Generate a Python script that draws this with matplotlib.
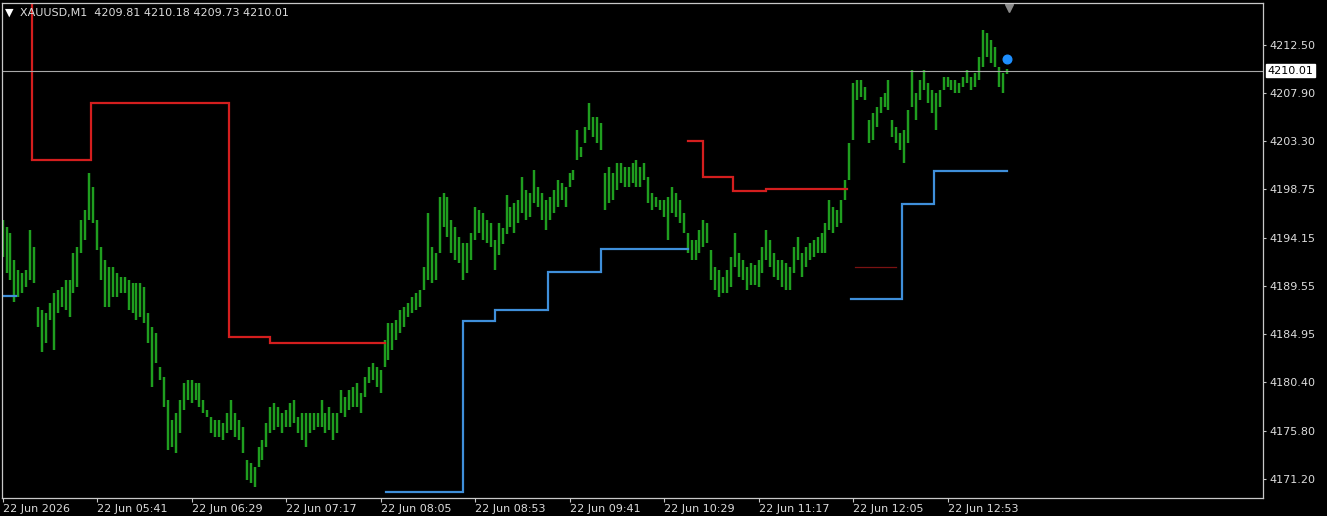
import matplotlib
matplotlib.use("Agg")
import matplotlib.pyplot as plt
import matplotlib.transforms as mtransforms
import numpy as np

SYMBOL = "XAUUSD,M1"
LAST_OHLC = [4209.81, 4210.18, 4209.73, 4210.01]
FIRST_BAR = "04:53"
BAR_STEP = 2  # minutes between the plotted bars

# bar highs / lows, one value every 2 minutes from 04:53
highs = [
    4195.81, 4195.15, 4194.58, 4192.01, 4191.06, 4190.78, 4191.06, 4194.86, 4193.25,
    4187.55, 4187.26, 4186.98, 4187.93,
    4188.88, 4189.16, 4189.45, 4190.11, 4190.11, 4192.68, 4193.25,
    4195.81, 4196.76, 4200.28, 4198.95, 4195.81,
    4193.25, 4192.01, 4191.35, 4191.35, 4190.78, 4190.40,
    4190.40, 4190.11, 4189.83, 4189.83, 4189.83,
    4189.45, 4186.98, 4185.65, 4185.08, 4181.85, 4180.90, 4178.71,
    4176.81, 4177.48, 4178.71, 4180.33, 4180.61,
    4180.61, 4180.33, 4180.33, 4178.71, 4177.76,
    4177.10, 4176.81, 4176.81, 4176.53, 4177.48, 4178.71,
    4177.48, 4176.81, 4176.15, 4173.01, 4172.73, 4172.35,
    4174.25,
    4174.91, 4176.53, 4178.05, 4178.43,
    4178.05, 4177.48, 4177.76, 4178.43, 4178.71,
    4177.10, 4177.48, 4177.48, 4177.48, 4177.48, 4177.48,
    4178.71, 4177.48, 4178.05, 4177.48, 4177.48,
    4179.66, 4179.00, 4179.66, 4179.95, 4180.33, 4179.38,
    4180.90, 4181.85, 4182.23, 4181.85, 4181.56,
    4184.41, 4186.03, 4186.03, 4186.31, 4187.26, 4187.55,
    4187.93, 4188.50, 4188.88, 4189.16,
    4191.35, 4196.48, 4193.25, 4192.68, 4198.00, 4198.38, 4198.00,
    4195.81, 4195.15, 4194.20, 4193.63, 4193.63, 4194.58,
    4197.05, 4196.76, 4196.48, 4195.81, 4195.53,
    4193.91, 4195.53, 4195.10, 4198.19,
    4197.05, 4197.43,
    4197.71, 4199.90, 4198.66, 4198.38,
    4200.56, 4198.95, 4198.38, 4197.71, 4198.00, 4198.66, 4199.61,
    4199.33, 4198.95, 4200.28, 4200.56, 4204.36, 4202.75,
    4204.65, 4206.93, 4205.60, 4205.60, 4205.03, 4200.28,
    4200.85, 4200.28, 4201.23, 4201.23, 4200.85,
    4200.85, 4201.23, 4201.51, 4200.85, 4201.23,
    4199.90, 4198.38, 4198.00, 4197.71, 4197.71, 4198.00,
    4198.95, 4198.38, 4197.71, 4196.48, 4194.58,
    4193.91, 4193.91, 4194.86, 4195.81, 4195.53, 4192.96,
    4191.35, 4191.06, 4190.40, 4191.06, 4192.30, 4194.58,
    4192.68, 4192.01, 4191.35, 4191.73, 4191.54,
    4192.01, 4193.25, 4194.86, 4193.91, 4192.68, 4192.01,
    4192.01, 4191.73, 4191.35, 4193.25, 4194.20,
    4192.68, 4193.25, 4193.63, 4193.91, 4194.20, 4194.58,
    4195.53, 4197.71, 4197.05, 4196.76, 4197.71,
    4199.61, 4203.13, 4208.83, 4209.11, 4209.11, 4208.45,
    4205.31, 4205.98, 4206.55, 4207.50, 4207.88, 4209.11,
    4205.31, 4204.65, 4204.08, 4204.36, 4206.26, 4210.06,
    4207.88, 4209.11, 4210.06, 4208.83, 4208.16, 4207.88,
    4208.16, 4209.40, 4209.40, 4209.11,
    4209.11, 4208.83, 4209.40, 4210.06, 4209.40, 4209.78,
    4211.30, 4213.86, 4213.58, 4212.91, 4212.25,
    4210.35, 4209.78, 4210.18,
]
lows = [
    4192.30, 4190.78, 4190.11, 4188.02, 4188.50, 4188.88, 4189.45, 4190.11, 4189.83,
    4185.65, 4183.27, 4184.13, 4186.31,
    4183.46, 4186.98, 4187.55, 4187.26, 4186.60, 4188.88, 4189.45,
    4192.68, 4193.91, 4195.81, 4195.53, 4192.96,
    4190.11, 4187.55, 4187.55, 4188.50, 4188.50, 4188.88,
    4188.88, 4187.26, 4186.98, 4186.31, 4186.60,
    4186.03, 4184.13, 4179.95, 4182.23, 4180.61, 4178.05, 4173.96,
    4174.25, 4173.68, 4175.58, 4177.76, 4178.71,
    4178.43, 4178.71, 4178.05, 4177.48, 4177.10,
    4175.58, 4175.20, 4175.20, 4174.91, 4175.58, 4175.86,
    4175.20, 4174.91, 4173.68, 4171.11, 4170.83, 4170.45,
    4172.35,
    4173.01, 4174.25, 4175.58, 4175.86,
    4176.15, 4175.58, 4176.15, 4176.15, 4176.53,
    4175.58, 4174.91, 4174.25, 4175.58, 4175.86, 4176.15,
    4176.15, 4175.58, 4175.86, 4174.91, 4175.58,
    4177.48, 4177.10, 4177.76, 4178.05, 4178.05, 4177.48,
    4179.00, 4180.33, 4180.61, 4179.95, 4179.38,
    4181.85, 4182.51, 4183.46, 4184.41, 4185.08, 4185.65,
    4186.60, 4186.98, 4187.26, 4187.55,
    4189.16, 4190.11, 4189.83, 4190.11, 4192.68, 4195.15, 4194.20,
    4192.68, 4192.01, 4191.73, 4190.11, 4190.78, 4192.01,
    4193.91, 4194.58, 4193.91, 4193.63, 4193.25,
    4191.06, 4192.48, 4193.53, 4194.48,
    4195.15, 4194.58,
    4195.53, 4196.48, 4195.81, 4196.10,
    4197.43, 4197.05, 4195.81, 4194.86, 4195.81, 4196.48, 4197.05,
    4197.71, 4197.05, 4198.95, 4199.61, 4201.51, 4201.80,
    4203.13, 4204.36, 4203.70, 4203.13, 4202.46, 4196.76,
    4197.43, 4197.71, 4198.66, 4199.33, 4198.95,
    4198.95, 4199.33, 4198.95, 4198.95, 4199.61,
    4197.43, 4196.76, 4197.05, 4196.76, 4196.10, 4193.91,
    4196.48, 4196.10, 4195.53, 4194.58, 4192.68,
    4192.01, 4192.01, 4192.68, 4193.25, 4193.63, 4190.11,
    4189.16, 4188.50, 4188.88, 4188.88, 4189.45, 4191.35,
    4190.40, 4190.11, 4189.16, 4189.64, 4189.64,
    4189.45, 4190.78, 4192.01, 4191.35, 4190.40, 4190.11,
    4189.45, 4189.16, 4189.16, 4190.78, 4192.01,
    4190.40, 4191.35, 4192.01, 4192.30, 4192.68, 4192.68,
    4192.68, 4194.86, 4194.58, 4195.15, 4195.53,
    4197.71, 4199.61, 4203.41, 4207.21, 4207.50, 4207.21,
    4203.13, 4203.41, 4204.65, 4205.98, 4206.55, 4206.26,
    4203.70, 4203.13, 4202.46, 4201.23, 4203.13, 4206.55,
    4205.31, 4207.21, 4208.16, 4206.93, 4205.98, 4204.36,
    4206.55, 4208.16, 4208.45, 4208.16,
    4207.88, 4207.88, 4208.45, 4208.83, 4208.16, 4208.45,
    4209.11, 4210.35, 4211.30, 4210.73, 4210.35,
    4208.45, 4207.88, 4209.73,
]

# resistance (red) and support (blue) steps: change times and levels
red_a_times = ["05:08", "05:38", "06:48", "07:09", "08:07"]
red_a_levels = [4201.50, 4206.95, 4184.70, 4184.10]
red_b_times = ["10:41", "10:49", "11:04", "11:21", "12:02"]
red_b_levels = [4203.35, 4199.90, 4198.60, 4198.80]
dark_red_times = ["12:06", "12:27"]
dark_red_levels = [4191.35]

blue_a_times = ["04:52", "05:00"]
blue_a_levels = [4188.60]
blue_b_times = ["08:08", "08:47", "09:03", "09:30", "09:57", "10:41"]
blue_b_levels = [4169.95, 4186.25, 4187.25, 4190.85, 4193.05]
blue_c_times = ["12:04", "12:30", "12:46", "13:23"]
blue_c_levels = [4188.30, 4197.30, 4200.50]

signal_time = "13:23"
signal_price = 4211.15

tick_times = ["04:53", "05:41", "06:29", "07:17", "08:05", "08:53",
              "09:41", "10:29", "11:17", "12:05", "12:53"]
tick_labels = ["22 Jun 2026", "22 Jun 05:41", "22 Jun 06:29", "22 Jun 07:17",
               "22 Jun 08:05", "22 Jun 08:53", "22 Jun 09:41", "22 Jun 10:29",
               "22 Jun 11:17", "22 Jun 12:05", "22 Jun 12:53"]
price_ticks = [4212.50, 4207.90, 4203.30, 4198.75, 4194.15,
               4189.55, 4184.95, 4180.40, 4175.80, 4171.20]

GREEN = "#1f9e1f"
RED = "#d41e1e"
BLUE = "#3f8fda"
FG = "#dcdcdc"
SPINE = "#c8c8c8"


def minutes(hhmm):
    h, m = hhmm.split(":")
    h0, m0 = FIRST_BAR.split(":")
    return (int(h) * 60 + int(m)) - (int(h0) * 60 + int(m0))


def draw_steps(ax, times, levels, color, lw=1.6):
    xs = [minutes(t) for t in times]
    ys = list(levels) + [levels[-1]]
    ax.step(xs, ys, where="post", color=color, lw=lw, solid_joinstyle="miter")


W, H = 1327, 516
fig = plt.figure(figsize=(W / 100, H / 100), dpi=100, facecolor="black")
ax = fig.add_axes([2 / W, 18 / H, 1260.7 / W, 494.7 / H])
ax.set_facecolor("black")

bar_x = np.arange(len(highs)) * BAR_STEP
ax.vlines(bar_x, lows, highs, color=GREEN, lw=1.75)

# red line comes in from above the visible range
ax.vlines(minutes(red_a_times[0]), red_a_levels[0], 4230, color=RED, lw=1.6)
draw_steps(ax, red_a_times, red_a_levels, RED)
draw_steps(ax, red_b_times, red_b_levels, RED)
draw_steps(ax, dark_red_times, dark_red_levels, "#7a1212", lw=0.9)
draw_steps(ax, blue_a_times, blue_a_levels, BLUE)
draw_steps(ax, blue_b_times, blue_b_levels, BLUE)
draw_steps(ax, blue_c_times, blue_c_levels, BLUE)

ax.plot(minutes(signal_time), signal_price, "o", color="#1e8fff", ms=6.2)

last_close = LAST_OHLC[3]
ax.axhline(last_close, color="#a8a8a8", lw=0.8)

ax.set_xlim(-0.3, 640.1)
ax.set_ylim(4169.40, 4216.42)

ax.set_xticks([minutes(t) for t in tick_times])
ax.set_xticklabels(tick_labels, ha="left")
ax.yaxis.tick_right()
ax.set_yticks(price_ticks)
ax.set_yticklabels([f"{p:.2f}" for p in price_ticks])
ax.tick_params(axis="x", colors=SPINE, labelcolor=FG, labelsize=8, length=3, pad=1.5)
ax.tick_params(axis="y", colors=SPINE, labelcolor=FG, labelsize=8, length=2.2, pad=2.8)
for s in ax.spines.values():
    s.set_color(SPINE)
    s.set_linewidth(0.9)

# current price box on the price scale
blend = mtransforms.blended_transform_factory(ax.transAxes, ax.transData)
ax.annotate(f"{last_close:.2f}", xy=(1.0, last_close), xycoords=blend,
            xytext=(3.6, 0), textcoords="offset points", ha="left", va="center",
            fontsize=8, color="black", annotation_clip=False,
            bbox=dict(boxstyle="square,pad=0.15", facecolor="white", edgecolor="white"))

# chart shift marker at the top
blend_x = mtransforms.blended_transform_factory(ax.transData, ax.transAxes)
ax.plot(minutes("13:24"), 0.99, marker="v", ms=5.5, color="#8a8a8a",
        transform=blend_x, clip_on=False)

# symbol header
fig.text(5 / W, 1 - 13 / H, "\u25bc", color="white", fontsize=8, va="center", ha="left")
header = SYMBOL + "  " + " ".join(f"{v:.2f}" for v in LAST_OHLC)
fig.text(20 / W, 1 - 13 / H, header, color=FG, fontsize=8, va="center", ha="left")

fig.savefig("out.png", dpi=100, facecolor="black")
